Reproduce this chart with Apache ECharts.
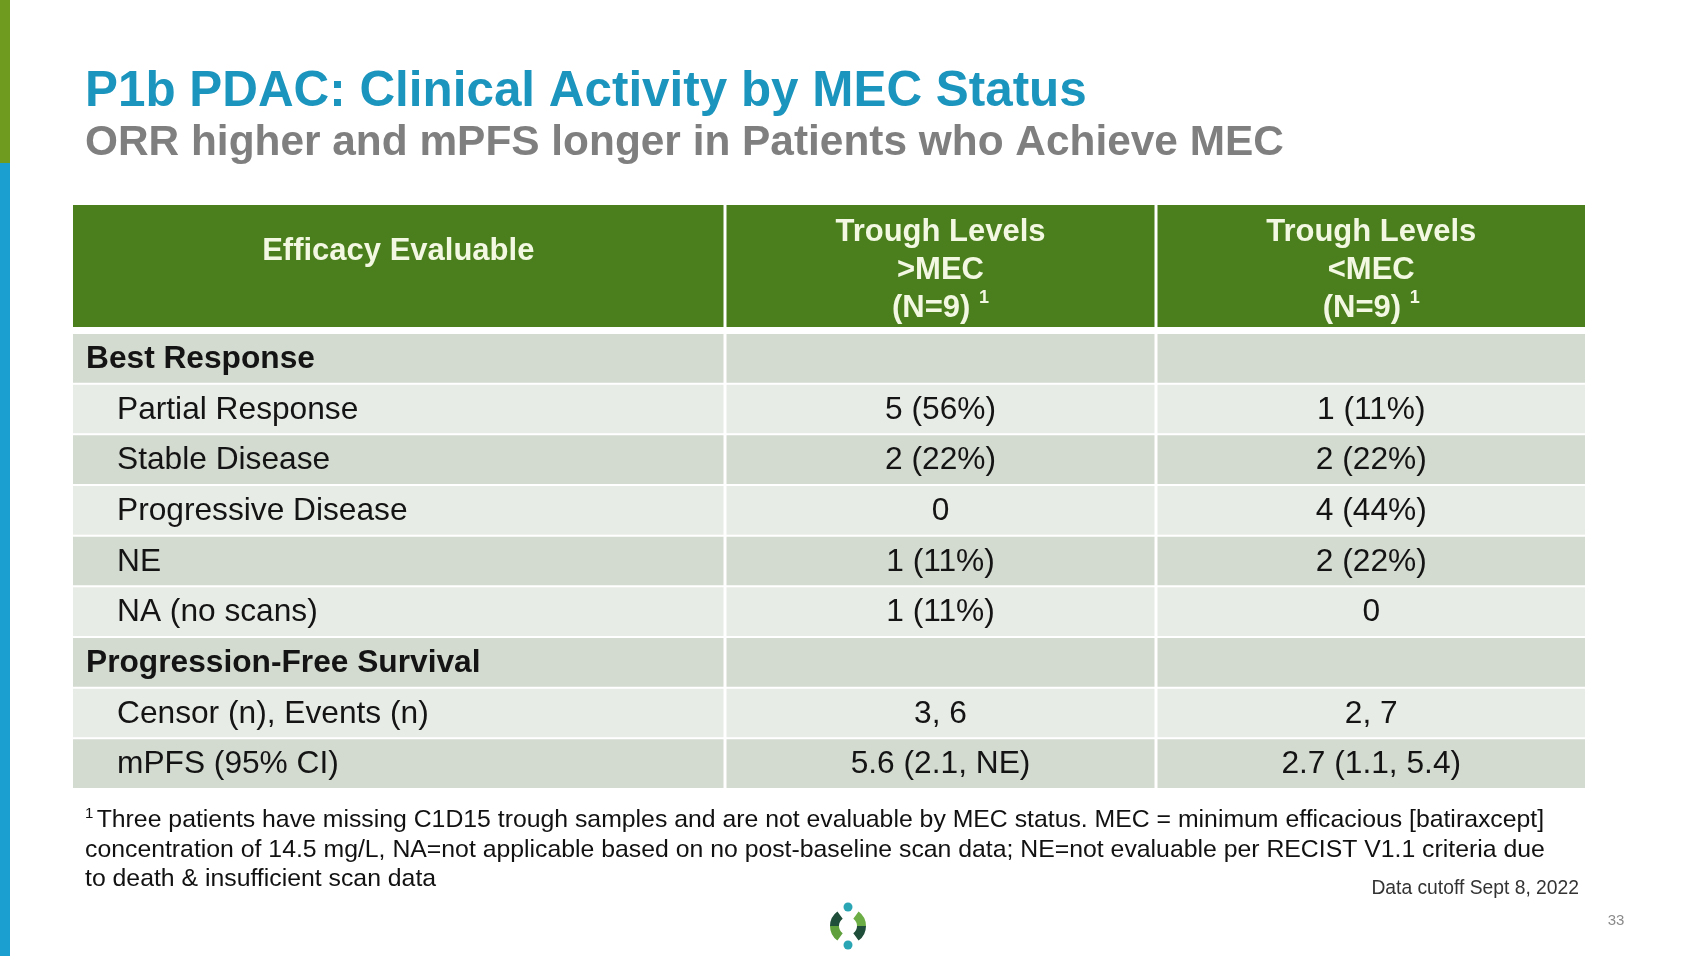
<!DOCTYPE html>
<html><head><meta charset="utf-8">
<script src="https://cdn.jsdelivr.net/npm/echarts@6/dist/echarts.min.js"></script>
<style>html,body{margin:0;padding:0;background:#fff}#c{width:1700px;height:956px}</style>
</head><body><div id="c"></div>
<script>
// ---------- data ----------
const titleText = 'P1b PDAC: Clinical Activity by MEC Status';
const subtitleText = 'ORR higher and mPFS longer in Patients who Achieve MEC';
const headerLines = [
  ['Efficacy Evaluable'],
  ['Trough Levels', '>MEC', '(N=9)'],
  ['Trough Levels', '<MEC', '(N=9)']
];
const headerNotes = ['', '1', '1'];
const rowLabels = ['Best Response', 'Partial Response', 'Stable Disease', 'Progressive Disease', 'NE',
  'NA (no scans)', 'Progression-Free Survival', 'Censor (n), Events (n)', 'mPFS (95% CI)'];
const rowLevels = [0, 1, 1, 1, 1, 1, 0, 1, 1];
const aboveMEC = ['', '5 (56%)', '2 (22%)', '0', '1 (11%)', '1 (11%)', '', '3, 6', '5.6 (2.1, NE)'];
const belowMEC = ['', '1 (11%)', '2 (22%)', '4 (44%)', '2 (22%)', '0', '', '2, 7', '2.7 (1.1, 5.4)'];
const footnoteLines = [
  'Three patients have missing C1D15 trough samples and are not evaluable by MEC status. MEC = minimum efficacious [batiraxcept]',
  'concentration of 14.5 mg/L, NA=not applicable based on no post-baseline scan data; NE=not evaluable per RECIST V1.1 criteria due',
  'to death & insufficient scan data'
];
const cutoffText = 'Data cutoff Sept 8, 2022';
const pageNumber = '33';

// ---------- layout / style ----------
const FONT = '"Liberation Sans", Arial, sans-serif';
const COL_W = [652, 431, 429];
const COL_START = [0, 652, 1083];
const TOTAL_W = 1512;
const HEADER_BG = '#4b7f1e';
const HEADER_FG = '#f3f8e2';
const DARK_ROW = '#d3dad0';
const LIGHT_ROW = '#e8ece6';
const TEXT = '#141414';
const BODY_FS = 31.7;
const FOOT_FS = 24.8;

function cellX(api, c, r) {
  const x0 = api.coord([COL_START[c], r])[0];
  const x1 = api.coord([COL_START[c] + COL_W[c], r])[0];
  const l = x0 + (c > 0 ? 1.5 : 0);
  const rr = x1 - (c < 2 ? 1.5 : 0);
  return [l, rr];
}

function headerItem(params, api) {
  const c = params.dataIndex;
  const [l, r] = cellX(api, c, 0);
  const cy = api.coord([0, 0])[1];
  const h = api.size([0, 1])[1];
  const y0 = cy - h / 2;
  const lines = headerLines[c];
  let text, ty;
  if (lines.length === 1) {
    text = '{h|' + lines[0] + '}';
    ty = y0 + 46;
  } else {
    text = lines.map((s, i) => '{h|' + s + (i === lines.length - 1 && headerNotes[c] ? ' ' : '') + '}' +
      (i === lines.length - 1 && headerNotes[c] ? '{s|' + headerNotes[c] + '}' : '')).join('\n');
    ty = cy + 4;
  }
  return {
    type: 'group',
    children: [
      { type: 'rect', shape: { x: l, y: y0, width: r - l, height: h }, style: { fill: HEADER_BG } },
      { type: 'text', style: {
          text: text, x: (l + r) / 2, y: ty, align: 'center', verticalAlign: 'middle',
          rich: {
            h: { fontFamily: FONT, fontSize: 31, fontWeight: 'bold', fill: HEADER_FG, lineHeight: 38, verticalAlign: 'middle' },
            s: { fontFamily: FONT, fontSize: 18, fontWeight: 'bold', fill: HEADER_FG, lineHeight: 30, verticalAlign: 'top' }
          } } }
    ]
  };
}

function bodyItem(col, values) {
  return function (params, api) {
    const r = params.dataIndex;
    const [l, rr] = cellX(api, col, r);
    const cy = api.coord([0, r])[1];
    const h = api.size([0, 1])[1];
    const children = [
      { type: 'rect', shape: { x: l, y: cy - h / 2 + 1, width: rr - l, height: h - 2 },
        style: { fill: r % 2 === 0 ? DARK_ROW : LIGHT_ROW } }
    ];
    const v = values[r];
    if (v) {
      if (col === 0) {
        const lvl = rowLevels[r];
        children.push({ type: 'text', style: {
          text: v, x: l + (lvl === 0 ? 13 : 44), y: cy + 1, align: 'left', verticalAlign: 'middle',
          fontFamily: FONT, fontSize: BODY_FS, fontWeight: lvl === 0 ? 'bold' : 'normal', fill: TEXT } });
      } else {
        children.push({ type: 'text', style: {
          text: v, x: (l + rr) / 2, y: cy + 1, align: 'center', verticalAlign: 'middle',
          fontFamily: FONT, fontSize: BODY_FS, fill: TEXT } });
      }
    }
    return { type: 'group', children: children };
  };
}

const chart = echarts.init(document.getElementById('c'), null, { renderer: 'canvas' });
const option = {
  animation: false,
  backgroundColor: '#ffffff',
  grid: [
    { left: 73, width: TOTAL_W, top: 205, height: 122 },
    { left: 73, width: TOTAL_W, top: 333, height: 456 }
  ],
  xAxis: [
    { type: 'value', gridIndex: 0, min: 0, max: TOTAL_W, show: false },
    { type: 'value', gridIndex: 1, min: 0, max: TOTAL_W, show: false }
  ],
  yAxis: [
    { type: 'category', gridIndex: 0, data: ['header'], show: false },
    { type: 'category', gridIndex: 1, data: rowLabels, inverse: true, show: false }
  ],
  series: [
    { type: 'custom', name: 'header', xAxisIndex: 0, yAxisIndex: 0,
      data: headerLines.map((_, i) => [COL_START[i], 0]), encode: { x: 0, y: 1 }, renderItem: headerItem },
    { type: 'custom', name: 'Efficacy Evaluable', xAxisIndex: 1, yAxisIndex: 1,
      data: rowLabels.map((_, i) => [0, i]), encode: { x: 0, y: 1 }, renderItem: bodyItem(0, rowLabels) },
    { type: 'custom', name: 'Trough Levels >MEC', xAxisIndex: 1, yAxisIndex: 1,
      data: aboveMEC.map((_, i) => [COL_START[1], i]), encode: { x: 0, y: 1 }, renderItem: bodyItem(1, aboveMEC) },
    { type: 'custom', name: 'Trough Levels <MEC', xAxisIndex: 1, yAxisIndex: 1,
      data: belowMEC.map((_, i) => [COL_START[2], i]), encode: { x: 0, y: 1 }, renderItem: bodyItem(2, belowMEC) }
  ],
  graphic: [
    { type: 'rect', shape: { x: 0, y: 0, width: 10, height: 163 }, style: { fill: '#6f9c1f' } },
    { type: 'rect', shape: { x: 0, y: 163, width: 10, height: 793 }, style: { fill: '#1b9ed0' } },
    { type: 'text', x: 85, y: 92, style: { text: titleText, fontFamily: FONT, fontSize: 49.4, fontWeight: 'bold',
        fill: '#1b95bd', verticalAlign: 'middle' } },
    { type: 'text', x: 85, y: 143, style: { text: subtitleText, fontFamily: FONT, fontSize: 42.4, fontWeight: 'bold',
        fill: '#7f7f7f', verticalAlign: 'middle' } },
    { type: 'text', x: 85, y: 820, style: { text: '{s|1} {t|' + footnoteLines[0] + '}', verticalAlign: 'middle',
        rich: { s: { fontFamily: FONT, fontSize: 15, fill: '#111', verticalAlign: 'top', lineHeight: 27 },
                t: { fontFamily: FONT, fontSize: FOOT_FS, fill: '#111', lineHeight: 27 } } } },
    { type: 'text', x: 85, y: 850, style: { text: footnoteLines[1], fontFamily: FONT, fontSize: FOOT_FS, fill: '#111', verticalAlign: 'middle' } },
    { type: 'text', x: 85, y: 879, style: { text: footnoteLines[2], fontFamily: FONT, fontSize: FOOT_FS, fill: '#111', verticalAlign: 'middle' } },
    { type: 'text', x: 1579, y: 889, style: { text: cutoffText, fontFamily: FONT, fontSize: 19.3, fill: '#333', align: 'right', verticalAlign: 'middle' } },
    { type: 'text', x: 1616, y: 921, style: { text: pageNumber, fontFamily: FONT, fontSize: 15, fill: '#8a8a8a', align: 'center', verticalAlign: 'middle' } },
    // logo
    { type: 'group', x: 848, y: 926, children: [
      { type: 'sector', shape: { cx: 0, cy: 0, r0: 9, r: 18, startAngle: Math.PI * 1.0, endAngle: Math.PI * 1.3 }, style: { fill: '#1f4e3a' } },
      { type: 'sector', shape: { cx: 0, cy: 0, r0: 9, r: 18, startAngle: Math.PI * 0.7, endAngle: Math.PI * 1.0 }, style: { fill: '#5f9f3c' } },
      { type: 'sector', shape: { cx: 0, cy: 0, r0: 9, r: 18, startAngle: Math.PI * 1.7, endAngle: Math.PI * 2.0 }, style: { fill: '#6cae45' } },
      { type: 'sector', shape: { cx: 0, cy: 0, r0: 9, r: 18, startAngle: 0, endAngle: Math.PI * 0.3 }, style: { fill: '#1f4e3a' } },
      { type: 'circle', shape: { cx: 0, cy: -19, r: 4.5 }, style: { fill: '#2aa5b3' } },
      { type: 'circle', shape: { cx: 0, cy: 19, r: 4.5 }, style: { fill: '#2aa5b3' } }
    ] }
  ]
};
chart.setOption(option);
</script>
</body></html>
